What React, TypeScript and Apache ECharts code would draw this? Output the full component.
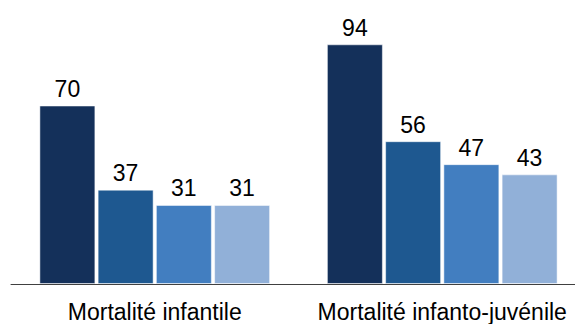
import React, { useEffect, useRef } from "react";
import * as echarts from "echarts";

const categories = ["Mortalité infantile", "Mortalité infanto-juvénile"];
const serie1 = [70, 94];
const serie2 = [37, 56];
const serie3 = [31, 47];
const serie4 = [31, 43];
const seriesNames = ["Enquête 1", "Enquête 2", "Enquête 3", "Enquête 4"];
const colors = ["#14305a", "#1e5890", "#427ec0", "#91b0d8"];

export default function App() {
  const ref = useRef<HTMLDivElement>(null);
  useEffect(() => {
    if (!ref.current) return;
    const chart = echarts.init(ref.current, null, { renderer: "svg" });
    const all = [serie1, serie2, serie3, serie4];
    chart.setOption({
      animation: false,
      grid: { left: 11, width: 575, top: 29, bottom: 40 },
      xAxis: {
        type: "category",
        data: categories,
        axisLine: { show: true, lineStyle: { color: "#404040", width: 1 } },
        axisTick: { show: false },
        axisLabel: {
          interval: 0,
          color: "#000",
          fontSize: 23,
          fontFamily: "Liberation Sans, Arial, sans-serif",
          margin: 16,
        },
      },
      yAxis: {
        type: "value",
        min: 0,
        max: 100,
        show: false,
        splitLine: { show: false },
      },
      series: all.map((d, i) => ({
        type: "bar",
        name: seriesNames[i],
        data: d,
        barWidth: 56,
        barGap: "4%",
        itemStyle: {
          color: colors[i],
          borderColor: "rgba(255,255,255,0.5)",
          borderWidth: 1,
        },
        label: {
          show: true,
          position: "top",
          distance: 5,
          color: "#000",
          fontSize: 23,
          fontFamily: "Liberation Sans, Arial, sans-serif",
        },
      })),
    });
    return () => chart.dispose();
  }, []);
  return (
    <div
      style={{
        position: "absolute",
        left: 0,
        top: 0,
        width: 575,
        height: 324,
        overflow: "hidden",
      }}
    >
      <div ref={ref} style={{ width: 600, height: 324 }} />
    </div>
  );
}
